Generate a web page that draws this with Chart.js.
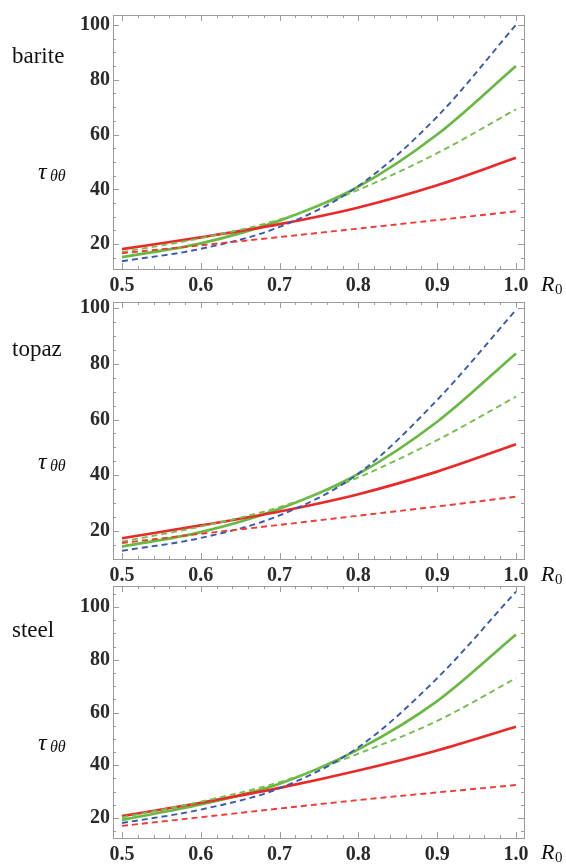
<!DOCTYPE html>
<html>
<head>
<meta charset="utf-8">
<script src="https://cdn.jsdelivr.net/npm/chart.js@4.4.1/dist/chart.umd.min.js"></script>
<style>
  body { margin: 0; background: #fff; width: 566px; height: 866px; overflow: hidden; position: relative; }
  canvas { position: absolute; left: 0; top: 0; }
</style>
</head>
<body>
<canvas id="c0" width="566" height="866"></canvas>
<canvas id="c1" width="566" height="866"></canvas>
<canvas id="c2" width="566" height="866"></canvas>
<script>
// Shear stress tau_theta-theta vs R0 for three materials

const r0Values = [0.5, 0.6, 0.7, 0.8, 0.9, 1.0];
const xTickLabels = [0.5, 0.6, 0.7, 0.8, 0.9, 1.0];
const yTickLabels = [20, 40, 60, 80, 100];
const materials = ['barite', 'topaz', 'steel'];

// barite
const bariteRedSolid    = [18.2, 22.5, 27.3, 33.4, 41.5, 51.5];
const bariteRedDashed   = [16.7, 19.6, 22.6, 25.7, 28.8, 32.0];
const bariteGreenSolid  = [15.3, 20.3, 28.6, 41.0, 60.0, 85.0];
const bariteGreenDashed = [17.1, 22.2, 29.0, 39.8, 53.2, 69.2];
const bariteBlueDashed  = [13.8, 18.3, 26.3, 41.2, 66.5, 100.0];

// topaz
const topazRedSolid    = [17.4, 22.0, 27.0, 33.2, 41.3, 51.1];
const topazRedDashed   = [15.7, 19.0, 22.2, 25.5, 28.8, 32.3];
const topazGreenSolid  = [14.4, 19.6, 28.0, 40.5, 59.2, 83.7];
const topazGreenDashed = [16.2, 21.6, 28.6, 39.2, 52.6, 68.2];
const topazBlueDashed  = [12.9, 17.5, 25.6, 40.6, 67.0, 99.3];

// steel
const steelRedSolid    = [20.7, 25.8, 31.4, 38.0, 45.6, 54.6];
const steelRedDashed   = [17.0, 20.3, 23.6, 26.8, 29.7, 32.5];
const steelGreenSolid  = [19.3, 25.1, 33.0, 46.0, 64.3, 89.6];
const steelGreenDashed = [20.2, 26.2, 33.6, 44.4, 56.8, 73.0];
const steelBlueDashed  = [18.1, 23.2, 31.3, 46.8, 73.0, 105.8];

const seriesByMaterial = {
  barite: [bariteRedDashed, bariteBlueDashed, bariteGreenDashed, bariteRedSolid, bariteGreenSolid],
  topaz:  [topazRedDashed, topazBlueDashed, topazGreenDashed, topazRedSolid, topazGreenSolid],
  steel:  [steelRedDashed, steelBlueDashed, steelGreenDashed, steelRedSolid, steelGreenSolid]
};

// line styles, same order as above
const lineStyles = [
  { color: 'rgb(238, 60, 55)',  width: 1.9, dash: [6, 4] },
  { color: 'rgb(58, 88, 176)',  width: 1.9, dash: [6, 4] },
  { color: 'rgb(118, 190, 78)', width: 1.9, dash: [6, 4] },
  { color: 'rgb(232, 42, 40)',  width: 2.7, dash: [] },
  { color: 'rgb(104, 184, 66)', width: 2.7, dash: [] }
];

// panel geometry (pixels)
const panels = [
  { top: 13,  bottom: 269, yMin: 10.95, yMax: 103.6,  nameY: 63,  tauY: 179, r0Y: 291 },
  { top: 302, bottom: 559, yMin: 9.96,  yMax: 102.15, nameY: 356, tauY: 469, r0Y: 581 },
  { top: 586, bottom: 838, yMin: 12.42, yMax: 107.96, nameY: 637, tauY: 750, r0Y: 859 }
];

const FRAME_LEFT = 113;
const FRAME_RIGHT = 524;
const X_AXIS_H = 26;
const SERIF = '"Liberation Serif", "DejaVu Serif", serif';

// frame with inward ticks on all four sides (Mathematica style)
const framePlugin = {
  id: 'frame',
  beforeDatasetsDraw(chart) {
    const { ctx, chartArea: a, scales } = chart;
    const xs = scales.x, ys = scales.y;
    ctx.save();
    ctx.strokeStyle = '#9c9c9c';
    ctx.lineWidth = 1;
    ctx.strokeRect(Math.round(a.left) + 0.5, Math.round(a.top) + 0.5,
      Math.round(a.right - a.left), Math.round(a.bottom - a.top));
    ctx.beginPath();
    for (let i = 0; i <= 25; i++) {
      const v = 0.5 + i * 0.02;
      const px = Math.round(xs.getPixelForValue(v)) + 0.5;
      const len = i % 5 === 0 ? 6 : 3;
      ctx.moveTo(px, a.bottom); ctx.lineTo(px, a.bottom - len);
      ctx.moveTo(px, a.top); ctx.lineTo(px, a.top + len);
    }
    for (let v = Math.ceil(ys.min / 5) * 5; v <= ys.max; v += 5) {
      const py = Math.round(ys.getPixelForValue(v)) + 0.5;
      const len = v % 20 === 0 ? 6 : 3;
      ctx.moveTo(a.left, py); ctx.lineTo(a.left + len, py);
      ctx.moveTo(a.right, py); ctx.lineTo(a.right - len, py);
    }
    ctx.stroke();
    ctx.restore();
  },
  afterDraw(chart, args, opts) {
    const { ctx } = chart;
    const p = opts.panel;
    ctx.save();
    ctx.fillStyle = '#111';
    ctx.textBaseline = 'alphabetic';
    // material name
    ctx.font = '23px ' + SERIF;
    ctx.fillText(opts.name, 12, p.nameY);
    // tau_theta theta
    ctx.font = 'italic 24px ' + SERIF;
    ctx.fillText('\u03C4', 38, p.tauY);
    ctx.font = 'italic 16px ' + SERIF;
    ctx.fillText('\u03B8\u03B8', 50, p.tauY + 2);
    // R0
    ctx.font = 'italic 22px ' + SERIF;
    ctx.fillText('R', 541, p.r0Y);
    ctx.font = '15px ' + SERIF;
    ctx.fillText('0', 555, p.r0Y + 3);
    ctx.restore();
  }
};

function makeChart(idx) {
  const name = materials[idx];
  const p = panels[idx];
  const datasets = seriesByMaterial[name].map((vals, i) => ({
    data: r0Values.map((x, j) => ({ x: x, y: vals[j] })),
    borderColor: lineStyles[i].color,
    borderWidth: lineStyles[i].width,
    borderDash: lineStyles[i].dash,
    pointRadius: 0,
    fill: false,
    cubicInterpolationMode: 'monotone'
  }));

  return new Chart(document.getElementById('c' + idx), {
    type: 'line',
    data: { datasets: datasets },
    plugins: [framePlugin],
    options: {
      responsive: false,
      animation: false,
      devicePixelRatio: 1,
      layout: {
        padding: { left: 0, right: 566 - FRAME_RIGHT, top: p.top, bottom: 866 - p.bottom - X_AXIS_H }
      },
      plugins: {
        legend: { display: false },
        tooltip: { enabled: false },
        frame: { name: name, panel: p }
      },
      scales: {
        x: {
          type: 'linear',
          min: 0.4886,
          max: 1.0102,
          afterFit: s => { s.height = X_AXIS_H; },
          afterBuildTicks: s => { s.ticks = xTickLabels.map(v => ({ value: v })); },
          grid: { display: false, drawTicks: false },
          border: { display: false },
          ticks: {
            padding: 5,
            maxRotation: 0,
            autoSkip: false,
            color: '#2a2a2a',
            font: { family: SERIF, size: 20, weight: 'bold' },
            callback: v => Number(v).toFixed(1)
          }
        },
        y: {
          type: 'linear',
          min: p.yMin,
          max: p.yMax,
          afterFit: s => { s.width = FRAME_LEFT; },
          afterBuildTicks: s => { s.ticks = yTickLabels.map(v => ({ value: v })); },
          grid: { display: false, drawTicks: false },
          border: { display: false },
          ticks: {
            padding: 3,
            color: '#2a2a2a',
            font: { family: SERIF, size: 20, weight: 'bold' },
            callback: v => String(v)
          }
        }
      }
    }
  });
}

materials.forEach((m, i) => makeChart(i));
</script>
</body>
</html>
